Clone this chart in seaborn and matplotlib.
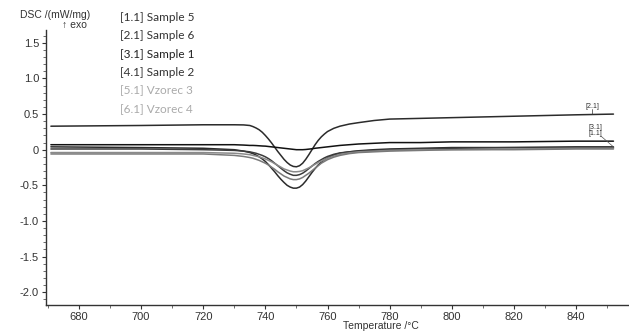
import numpy as np
import pandas as pd
import matplotlib
matplotlib.use("Agg")
import matplotlib.pyplot as plt
from matplotlib.ticker import MultipleLocator, FuncFormatter
import seaborn as sns

# =========================
# Data
# =========================
temps = [671, 700, 720, 730, 733, 735, 736, 737, 738, 739, 740, 741, 742, 743,
         744, 745, 746, 747, 748, 749, 750, 751, 752, 753, 754, 755, 756, 757,
         758, 759, 760, 762, 764, 767, 770, 775, 780, 790, 800, 820, 840, 852]

sample5 = [0.04, 0.03, 0.02, 0.0, -0.02, -0.04, -0.055, -0.075, -0.10, -0.13, -0.165, -0.21, -0.26, -0.31,
           -0.365, -0.415, -0.46, -0.50, -0.525, -0.54, -0.54, -0.525, -0.49, -0.44, -0.38, -0.32, -0.265, -0.215,
           -0.175, -0.14, -0.115, -0.075, -0.05, -0.03, -0.015, 0.0, 0.01, 0.02, 0.03, 0.03, 0.04, 0.04]
sample6 = [0.33, 0.34, 0.35, 0.35, 0.348, 0.34, 0.325, 0.305, 0.28, 0.245, 0.20, 0.15, 0.095, 0.035,
           -0.025, -0.08, -0.135, -0.18, -0.215, -0.235, -0.24, -0.225, -0.19, -0.135, -0.07, 0.0, 0.07, 0.13,
           0.18, 0.22, 0.255, 0.30, 0.33, 0.36, 0.38, 0.41, 0.43, 0.44, 0.45, 0.47, 0.49, 0.50]
sample1 = [0.07, 0.07, 0.07, 0.07, 0.065, 0.06, 0.06, 0.058, 0.055, 0.052, 0.05, 0.045, 0.04, 0.035,
           0.03, 0.025, 0.02, 0.015, 0.01, 0.005, 0.0, 0.0, 0.0, 0.003, 0.008, 0.013, 0.02, 0.025,
           0.03, 0.035, 0.04, 0.05, 0.06, 0.07, 0.08, 0.09, 0.10, 0.10, 0.11, 0.11, 0.12, 0.12]
sample2 = [0.01, 0.01, 0.0, -0.01, -0.02, -0.03, -0.04, -0.05, -0.065, -0.08, -0.10, -0.125, -0.155, -0.19,
           -0.225, -0.26, -0.295, -0.325, -0.345, -0.36, -0.36, -0.35, -0.33, -0.30, -0.265, -0.23, -0.195, -0.165,
           -0.14, -0.115, -0.095, -0.065, -0.045, -0.03, -0.02, -0.01, 0.0, 0.01, 0.02, 0.03, 0.03, 0.03]
vzorec3 = [-0.04, -0.04, -0.04, -0.05, -0.06, -0.07, -0.08, -0.09, -0.10, -0.115, -0.13, -0.15, -0.17, -0.195,
           -0.22, -0.245, -0.27, -0.285, -0.30, -0.31, -0.31, -0.305, -0.295, -0.275, -0.255, -0.23, -0.205, -0.18,
           -0.16, -0.14, -0.12, -0.09, -0.065, -0.045, -0.03, -0.02, -0.01, 0.0, 0.0, 0.01, 0.02, 0.02]
vzorec4 = [-0.06, -0.06, -0.06, -0.08, -0.095, -0.11, -0.12, -0.135, -0.15, -0.17, -0.19, -0.215, -0.245, -0.275,
           -0.31, -0.34, -0.37, -0.39, -0.41, -0.42, -0.42, -0.41, -0.39, -0.36, -0.33, -0.295, -0.26, -0.225,
           -0.19, -0.165, -0.14, -0.105, -0.08, -0.055, -0.04, -0.03, -0.02, -0.01, 0.0, 0.0, 0.01, 0.01]

labels = ["[1.1] Sample 5", "[2.1] Sample 6", "[3.1] Sample 1",
          "[4.1] Sample 2", "[5.1] Vzorec 3", "[6.1] Vzorec 4"]
series = [sample5, sample6, sample1, sample2, vzorec3, vzorec4]
line_colors = ["#2b2b2b", "#2b2b2b", "#111111", "#3a3a3a", "#8a8a8a", "#7a7a7a"]
text_colors = ["#333333", "#333333", "#222222", "#333333", "#aaaaaa", "#aaaaaa"]

# =========================
# Plot
# =========================
sns.set_theme(style="ticks")
plt.rcParams["font.family"] = ["Liberation Sans", "DejaVu Sans"]
plt.rcParams["axes.unicode_minus"] = False

fig = plt.figure(figsize=(6.29, 3.34), dpi=100)
ax = fig.add_axes([0.073, 0.087, 0.927, 0.823])

for vals, col in zip(series, line_colors):
    sns.lineplot(x=temps, y=vals, color=col, linewidth=1.1, ax=ax, sort=False)

ax.set_xlim(669.4, 857)
ax.set_ylim(-2.18, 1.68)
ax.xaxis.set_major_locator(MultipleLocator(20))
ax.xaxis.set_minor_locator(MultipleLocator(10))
ax.yaxis.set_major_locator(MultipleLocator(0.5))
ax.yaxis.set_minor_locator(MultipleLocator(0.1))
ax.yaxis.set_major_formatter(FuncFormatter(lambda v, p: "0" if abs(v) < 1e-9 else f"{v:.1f}"))
ax.tick_params(axis="both", which="major", labelsize=8, length=3, width=0.8,
               colors="#333333", direction="out", pad=2)
ax.tick_params(axis="both", which="minor", length=2, width=0.6, colors="#555555", direction="out")
for s in ["top", "right"]:
    ax.spines[s].set_visible(False)
for s in ["left", "bottom"]:
    ax.spines[s].set_color("#333333")
    ax.spines[s].set_linewidth(1.0)

ax.set_xlabel("")
ax.set_ylabel("")
fig.text(0.605, 0.008, "Temperature /°C", fontsize=7.5, color="#333333", ha="center", va="bottom")
fig.text(0.032, 0.955, "DSC /(mW/mg)", fontsize=7.5, color="#333333", ha="left", va="center")
fig.text(0.098, 0.925, "↑ exo", fontsize=7.5, color="#333333", ha="left", va="center")

# legend as plain text lines
for i, (lab, tc) in enumerate(zip(labels, text_colors)):
    fig.text(0.19, 0.948 - i * 0.055, lab, fontsize=8.5, color=tc,
             family=["Lato", "DejaVu Sans"], ha="left", va="center")

# curve tags at right end
ax.text(843.0, 0.59, "[2.1]", fontsize=5, color="#333333")
ax.text(844.0, 0.29, "[3.1]", fontsize=5, color="#333333")
ax.text(844.0, 0.20, "[1.1]", fontsize=5, color="#333333")
ax.plot([845, 845], [0.57, 0.50], color="#333333", lw=0.5)
ax.plot([848, 852], [0.19, 0.04], color="#555555", lw=0.5)

fig.savefig("out.png", dpi=100)
